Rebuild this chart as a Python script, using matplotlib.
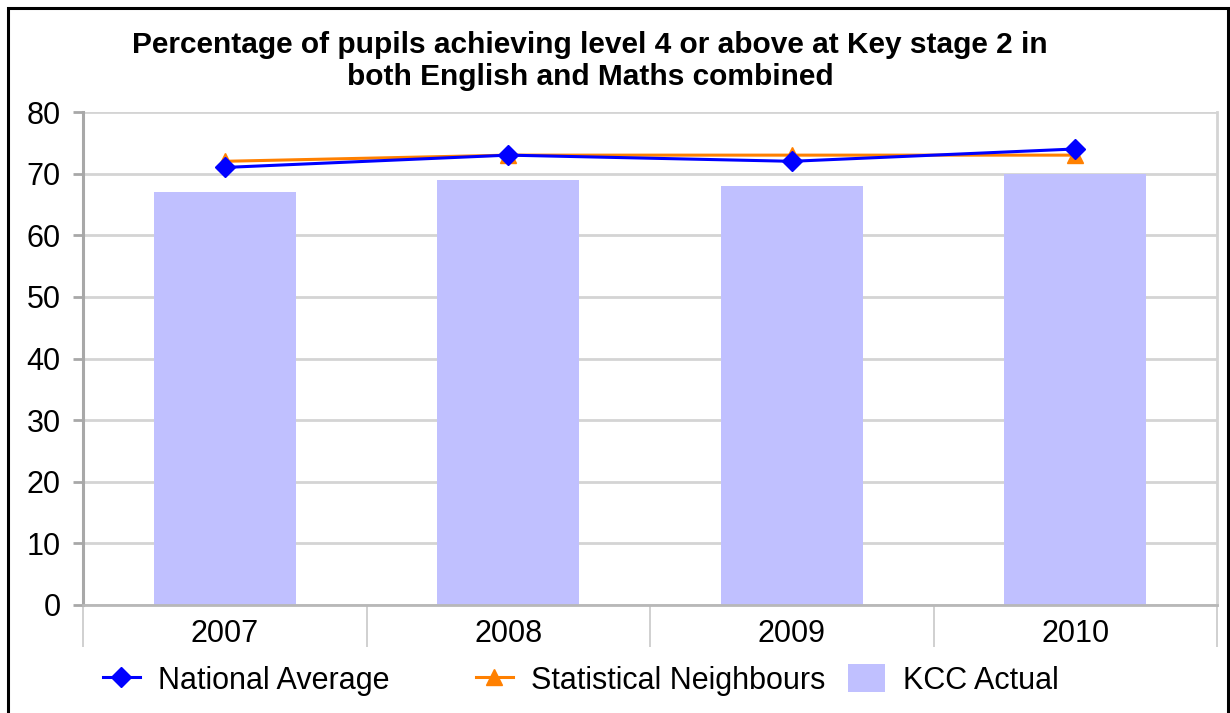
import matplotlib
matplotlib.use("Agg")
import matplotlib.pyplot as plt
from matplotlib.patches import Rectangle
import numpy as np

years = ["2007", "2008", "2009", "2010"]
national_average = [71, 73, 72, 74]
statistical_neighbours = [72, 73, 73, 73]
kcc_actual = [67, 69, 68, 70]
y_ticks = [0, 10, 20, 30, 40, 50, 60, 70, 80]

plt.rcParams["font.family"] = ["Liberation Sans", "DejaVu Sans"]

W, H = 1230, 713
fig = plt.figure(figsize=(W / 100, H / 100), dpi=100)

# outer frame around the whole chart
fig.patches.append(Rectangle((8 / W, -0.05), (1228 - 8) / W, 1 - 8 / H + 0.05,
                             transform=fig.transFigure, fill=False,
                             edgecolor="black", linewidth=2.2, zorder=0))

left, right, top, bottom = 83 / W, 1217 / W, 1 - 112 / H, 1 - 605 / H
ax = fig.add_axes([left, bottom, right - left, top - bottom])

x = np.arange(len(years))
bars = ax.bar(x, kcc_actual, width=0.5, color="#C0C0FF", label="KCC Actual", zorder=2)
sn_line, = ax.plot(x, statistical_neighbours, color="#FF8000", lw=2.2, marker="^",
                   markersize=12, label="Statistical Neighbours", zorder=3)
na_line, = ax.plot(x, national_average, color="#0000FF", lw=2.2, marker="D",
                   markersize=10, label="National Average", zorder=4)

ax.set_xlim(-0.5, len(years) - 0.5)
ax.set_ylim(0, 80)
ax.set_yticks(y_ticks)
ax.set_yticklabels([str(v) for v in y_ticks], fontsize=22)
ax.yaxis.grid(True, color="#D4D4D4", linewidth=2, zorder=0)
ax.set_axisbelow(True)

# category separators below the axis
ax.set_xticks(np.arange(-0.5, len(years), 1.0))
ax.set_xticklabels([])
ax.set_xticks(x, minor=True)
ax.set_xticklabels(years, minor=True, fontsize=22)
ax.tick_params(axis="x", which="major", length=30, width=1.2, color="#C8C8C8")
ax.tick_params(axis="x", which="minor", length=0, pad=10)
ax.tick_params(axis="y", length=7, width=2, color="#A8A8A8", pad=9)

ax.spines["top"].set_visible(False)
ax.spines["left"].set_color("#A8A8A8")
ax.spines["left"].set_linewidth(2.2)
ax.spines["bottom"].set_color("#B8B8B8")
ax.spines["bottom"].set_linewidth(2)
ax.spines["right"].set_color("#D4D4D4")
ax.spines["right"].set_linewidth(2)

fig.text(590 / W, 1 - 61 / H,
         "Percentage of pupils achieving level 4 or above at Key stage 2 in\n"
         "both English and Maths combined",
         ha="center", va="center", fontsize=21.5, fontweight="bold",
         linespacing=1.15)

# legend entries laid out in equal-width slots along the bottom
entries = [(na_line, "National Average", 103),
           (sn_line, "Statistical Neighbours", 476),
           (bars, "KCC Actual", 848)]
for handle, label, xpix in entries:
    fig.legend([handle], [label], loc="center left",
               bbox_to_anchor=(xpix / W, 1 - 680 / H), frameon=False,
               fontsize=22, handlelength=1.2, handleheight=1.0,
               handletextpad=0.6, borderpad=0, borderaxespad=0)

fig.savefig("out.png", dpi=100)
